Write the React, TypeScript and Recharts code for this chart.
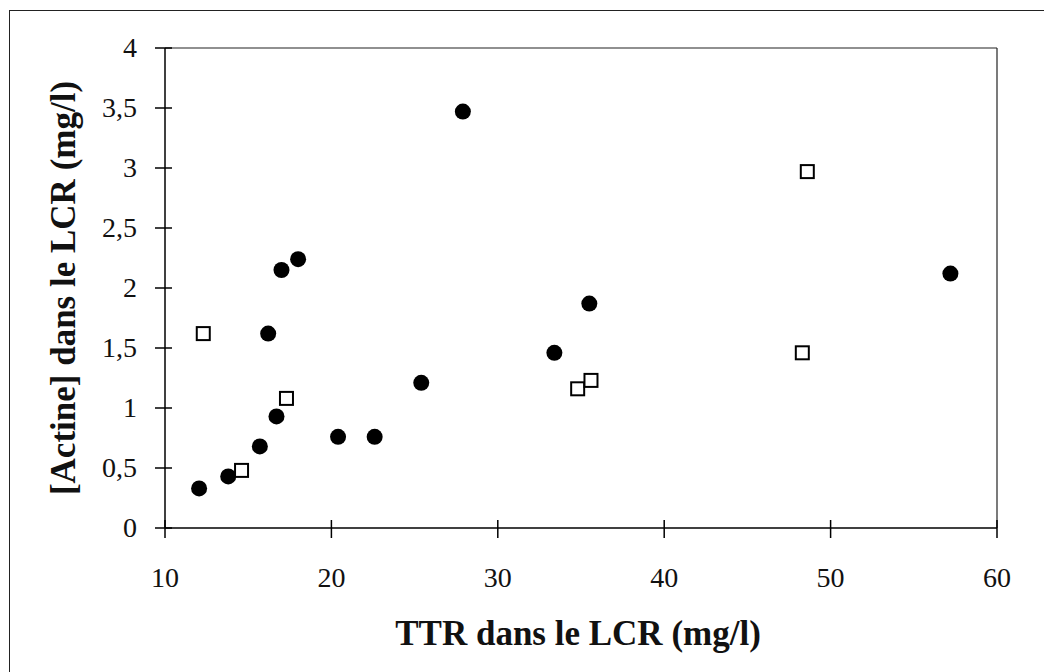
import { ScatterChart, Scatter, XAxis, YAxis, ReferenceLine, Label } from "recharts";

// filled circles
const circleTtr = [12.05, 13.8, 15.7, 16.7, 16.2, 17.0, 18.0, 20.4, 22.6, 25.4, 27.9, 33.4, 35.5, 57.2];
const circleActine = [0.33, 0.43, 0.68, 0.93, 1.62, 2.15, 2.24, 0.76, 0.76, 1.21, 3.47, 1.46, 1.87, 2.12];

// open squares
const squareTtr = [12.3, 14.6, 17.3, 34.8, 35.6, 48.3, 48.6];
const squareActine = [1.62, 0.48, 1.08, 1.16, 1.23, 1.46, 2.97];

const xTicks = [10, 20, 30, 40, 50, 60];
const yTicks = [0, 0.5, 1, 1.5, 2, 2.5, 3, 3.5, 4];

const circles = circleTtr.map((ttr, i) => ({ ttr, actine: circleActine[i] }));
const squares = squareTtr.map((ttr, i) => ({ ttr, actine: squareActine[i] }));

const FONT = '"Liberation Serif", "Times New Roman", serif';
const TICK_SIZE = 10;
const Y_TICK_MARGIN = 18;
const X_TICK_MARGIN = 8;

const fmt = (v: number) => String(v).replace(".", ",");

function YTick(props: any) {
  const { x, y, payload } = props;
  const axisX = x + TICK_SIZE + Y_TICK_MARGIN;
  return (
    <g>
      <line x1={axisX} x2={axisX + 7} y1={y} y2={y} stroke="#000" strokeWidth={1.5} />
      <text x={x} y={y} dy={9} textAnchor="end" fontFamily={FONT} fontSize={28} fill="#111">
        {fmt(payload.value)}
      </text>
    </g>
  );
}

function XTick(props: any) {
  const { x, y, payload } = props;
  const axisY = y - TICK_SIZE - X_TICK_MARGIN;
  return (
    <g>
      <line x1={x} x2={x} y1={axisY} y2={axisY - 8} stroke="#000" strokeWidth={1.5} />
      <text x={x} y={y} dy={41} textAnchor="middle" fontFamily={FONT} fontSize={28} fill="#111">
        {fmt(payload.value)}
      </text>
    </g>
  );
}

const Dot = (p: any) => <circle cx={p.cx} cy={p.cy} r={8} fill="#000" />;
const Box = (p: any) => (
  <rect x={p.cx - 6.5} y={p.cy - 6.5} width={13} height={13} fill="#fff" stroke="#000" strokeWidth={2} />
);

export default function App() {
  return (
    <div style={{ position: "absolute", left: 0, top: 0, width: 1044, height: 672, background: "#fff" }}>
      <div
        style={{
          position: "absolute",
          left: 9,
          top: 10,
          right: 0,
          bottom: 0,
          borderLeft: "1px solid #222",
          borderTop: "1px solid #222",
        }}
      />
      <ScatterChart width={1044} height={672} margin={{ top: 48, right: 47, left: 0, bottom: 0 }} style={{ position: "absolute", left: 0, top: 0 }}>
        <XAxis
          type="number"
          dataKey="ttr"
          domain={[10, 60]}
          ticks={xTicks}
          height={144}
          tickSize={TICK_SIZE}
          tickMargin={X_TICK_MARGIN}
          axisLine={{ stroke: "#000", strokeWidth: 1.5 }}
          tickLine={{ stroke: "#000", strokeWidth: 1.5 }}
          tick={<XTick />}
          interval={0}
        >
          <Label
            value="TTR dans le LCR (mg/l)"
            position="insideBottom"
            offset={27}
            dx={-3}
            style={{ fontFamily: FONT, fontSize: 35, fontWeight: 700, fill: "#111" }}
          />
        </XAxis>
        <YAxis
          type="number"
          dataKey="actine"
          domain={[0, 4]}
          ticks={yTicks}
          width={165}
          tickSize={TICK_SIZE}
          tickMargin={Y_TICK_MARGIN}
          axisLine={{ stroke: "#000", strokeWidth: 1.5 }}
          tickLine={{ stroke: "#000", strokeWidth: 1.5 }}
          tick={<YTick />}
          interval={0}
        >
          <Label
            value="[Actine] dans le LCR (mg/l)"
            angle={-90}
            position="insideLeft"
            offset={63}
            style={{ fontFamily: FONT, fontSize: 35, fontWeight: 700, fill: "#111", textAnchor: "middle" }}
          />
        </YAxis>
        <ReferenceLine y={4} stroke="#222" strokeWidth={1.2} />
        <ReferenceLine x={60} stroke="#222" strokeWidth={1.2} />
        <Scatter data={circles} shape={Dot} isAnimationActive={false} />
        <Scatter data={squares} shape={Box} isAnimationActive={false} />
      </ScatterChart>
    </div>
  );
}
